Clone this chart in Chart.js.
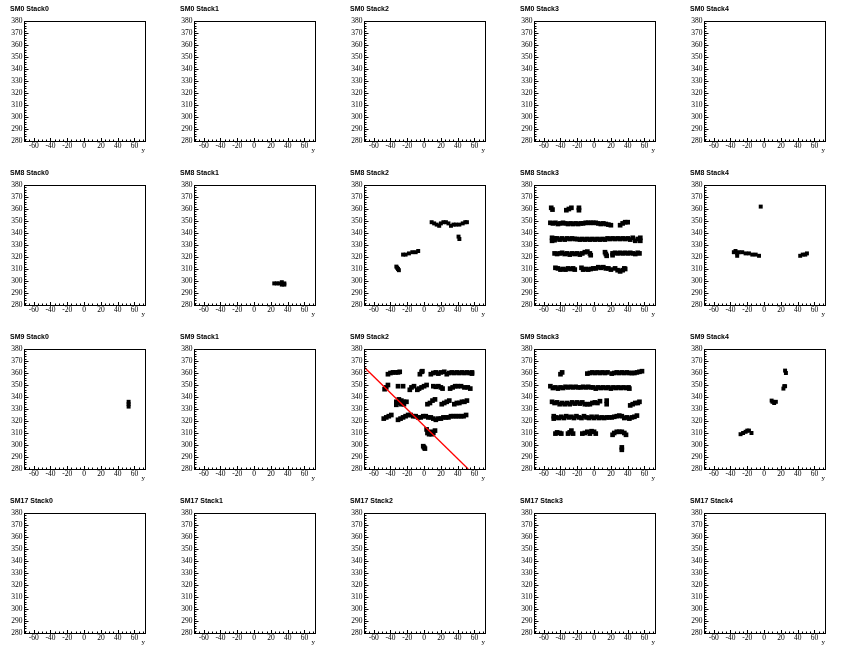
<!DOCTYPE html>
<html><head><meta charset="utf-8">
<style>html,body{margin:0;padding:0;background:#fff;width:851px;height:656px;overflow:hidden}
canvas{position:absolute}</style>
<script src="https://cdn.jsdelivr.net/npm/chart.js@4"></script></head><body>
<script>
const modules=["SM0","SM8","SM9","SM17"];
const stacks=["Stack0","Stack1","Stack2","Stack3","Stack4"];
const yTickLabels=[280,290,300,310,320,330,340,350,360,370,380];
const xTickLabels=[-60,-40,-20,0,20,40,60];
const fitLine=[[-71.5,365],[52.5,280]];
const sm8Stack1=[[24,298],[27,298],[30,298],[33,297],[33,299],[36,297],[36,298]];
const sm9Stack0=[[53,336],[53,334],[53,332]];
const sm8Stack2=[[-33,312],[-32,311],[-31,310],[-30,309],[-25,322],[-22,322],[-18,323],[-14,324],[-10,324],[-7,325],[9,349],[12,348],[15,347],[18,346],[20,348],[23,349],[26,349],[29,348],[32,346],[35,347],[38,347],[42,347],[46,348],[49,349],[51,349],[41,337],[42,335]];
const sm8Stack4=[[-36,324],[-34,325],[-32,323],[-32,321],[-30,324],[-26,324],[-22,323],[-18,323],[-14,322],[-10,322],[-6,321],[-4,362],[43,321],[46,322],[49,322],[51,323]];
const sm9Stack4=[[-28,309],[-25,310],[-22,311],[-20,312],[-18,312],[-15,310],[9,337],[10,336],[12,335],[14,336],[23,347],[24,349],[25,349],[25,362],[26,360]];
const sm8Stack3=[[-51,361],[-49.5,359.5],[-33,359],[-30,360],[-27,361],[-18,361],[-18,359],
[-52,348.5],[-49,348],[-46,348.5],[-43,347.5],[-40,348],[-37,348.5],[-34,348],[-31,347.5],[-28,348],[-25,347.5],[-22,348],[-19,347.5],[-16,348],[-13,348],[-10,348.5],[-7,348.5],[-4,348.5],[-1,348.5],[2,348.5],[5,348],[8,347.5],[11,348],[14,347.5],[17,347],[20,346.5],[31,346.5],[34,348],[37,349],[40,349],
[-50,336],[-50,333.5],[-47,335.5],[-47,334],[-44,335.5],[-41,334.5],[-38,335.5],[-35,334.5],[-32,335.5],[-29,335],[-26,335.5],[-23,335],[-20,335],[-17,334.5],[-14,335],[-11,334.5],[-8,335],[-5,334.5],[-2,335],[1,334.5],[4,335],[7,334.5],[10,335],[13,334.5],[16,335.5],[19,335],[22,335.5],[25,335],[28,335.5],[31,335],[34,335.5],[37,335],[40,335.5],[43,334.5],[46,336],[49,333.5],[52,335],[55,333.5],[55,336],
[-47,323],[-44,322.5],[-41,323],[-38,323.5],[-35,322.5],[-32,323],[-29,322],[-26,323],[-23,322.5],[-20,323],[-17,322],[-14,323],[-11,324],[-8,324.5],[-5,323],[-4,321.5],[13,324],[14,322.5],[15,321],[22,323],[22,321.5],[25,323.5],[28,323],[31,323.5],[34,323],[37,323.5],[40,323],[43,323.5],[46,323],[49,322.5],[52,323.5],[54,323],
[-46,311],[-43,310.5],[-40,309.5],[-37,310],[-34,309.5],[-31,310.5],[-28,310],[-25,310.5],[-23,309.5],[-15,311],[-13,309.5],[-10,310],[-7,309.5],[-4,310],[-1,310.5],[2,310.5],[5,311.5],[8,311],[11,311.5],[14,310.5],[17,310.5],[20,309.5],[25,310.5],[28,309],[31,308],[34,309],[36,310.5],[37,310]];
const sm9Stack2=[[-43,359],[-40,360],[-37,360.5],[-34,360.5],[-31,360.5],[-29,361],[-5,359],[-3,361],[-2,361.5],[8,359],[11,360],[14,360.5],[17,359.5],[20,360.5],[24,361],[27,359],[30,360],[33,360.5],[36,360],[39,360.5],[42,360],[45,360.5],[48,360],[51,360.5],[54,360],[57,360.5],[57,359.5],
[-47,346.5],[-45,348],[-43,350],[-31,349],[-25,349],[-17,346],[-15,348],[-12,349],[-8,346],[-6,347],[-3,348],[0,349],[3,350],[11,349],[14,348.5],[17,349],[20,348],[22,347],[31,347],[34,348],[37,349],[40,349],[44,349],[48,348],[52,348],[55,347],
[-33,336],[-33,333.5],[-30,338],[-30,335],[-27,334],[-27,337],[-24,336],[-24,334],[-21,336],[4,334],[7,335],[10,337],[13,338],[21,334],[24,335],[27,336],[30,337],[36,334],[39,335],[42,335],[45,336],[48,336],[51,337],
[-48,322],[-45,323],[-42,324],[-39,325],[-31,321],[-28,322],[-25,323],[-22,324],[-19,325],[-16,325],[-13,324],[-10,324],[-7,323],[-4,323],[-1,324],[2,324],[5,323],[8,323],[11,322],[14,321],[17,322],[20,322],[23,323],[26,323],[29,323],[32,324],[35,324],[38,324],[41,324],[44,324],[47,324],[50,325],
[3,313],[4,310],[6,309],[8,311],[9,309],[11,310],[13,312],[-1,299],[0,298],[1,297]];
const sm9Stack3=[[-40,359],[-38,360.5],[-8,359.5],[-5,360],[-2,360.5],[1,360],[4,360.5],[7,360],[10,360.5],[13,360],[16,360.5],[21,359.5],[24,360],[27,360.5],[30,360],[33,360.5],[36,360],[39,360.5],[42,360],[45,360],[48,360],[51,360.5],[54,361],[57,361.5],
[-52,349],[-49,347.5],[-46,348],[-43,347],[-40,348],[-37,347.5],[-34,348.5],[-31,348],[-28,348.5],[-25,348],[-22,348.5],[-19,348],[-16,348],[-13,348.5],[-10,348],[-7,348.5],[-4,348],[-1,348],[2,347],[5,348],[8,347.5],[11,348],[14,347.5],[17,348],[20,347],[23,348],[26,347.5],[29,348],[32,347.5],[35,348],[38,347.5],[41,348],[42,347],
[-50,336],[-47,335],[-44,335.5],[-41,334],[-38,335],[-35,334],[-32,335],[-29,334],[-26,335.5],[-23,334.5],[-20,335.5],[-17,334.5],[-14,335.5],[-11,334],[-8,334],[-5,334],[-2,335],[1,335.5],[4,335],[7,336.5],[15,337],[15,334],[43,333],[46,334],[49,335],[52,335],[54,336],
[-48,324],[-48,322],[-45,323],[-42,322.5],[-39,323.5],[-36,322.5],[-33,324],[-30,323],[-27,323.5],[-24,322.5],[-21,324],[-18,323],[-15,322.5],[-12,324],[-9,323],[-6,322.5],[-3,323.5],[0,322.5],[3,323.5],[6,322.5],[9,323],[12,322.5],[15,323],[18,323],[21,323],[24,323.5],[27,324],[30,324.5],[33,324],[36,322.5],[39,323],[42,322],[45,323],[48,323.5],[51,324.5],
[-46,309.5],[-44,310.5],[-41,310],[-39,309.5],[-31,309.5],[-29,310.5],[-27,312],[-25,309.5],[-14,309.5],[-11,310],[-8,311],[-5,309.5],[-3,311.5],[0,311],[2,309.5],[22,308.5],[24,310],[27,311],[30,311],[33,311],[36,310],[38,308.5],[33,298],[33,296]];
const panelData={"SM8 Stack1":sm8Stack1,"SM8 Stack2":sm8Stack2,"SM8 Stack3":sm8Stack3,"SM8 Stack4":sm8Stack4,"SM9 Stack0":sm9Stack0,"SM9 Stack2":sm9Stack2,"SM9 Stack3":sm9Stack3,"SM9 Stack4":sm9Stack4};
const densePanels=["SM8 Stack3","SM9 Stack2","SM9 Stack3"];
const toPts=a=>a.map(p=>({x:p[0],y:p[1]}));

const frameAndTicks={id:'frameAndTicks',afterDatasetsDraw(c){
  const {ctx,chartArea:a,scales:{x,y}}=c;
  ctx.save();ctx.strokeStyle='#000';ctx.lineWidth=1;
  const L=Math.round(a.left)+.5,R=Math.round(a.right)+.5,T=Math.round(a.top)+.5,B=Math.round(a.bottom)+.5;
  ctx.beginPath();
  for(let v=280;v<=380;v+=2){const p=Math.round(y.getPixelForValue(v))+.5,l=v%10===0?4:2;ctx.moveTo(L,p);ctx.lineTo(L+l,p);}
  for(let v=-70;v<=70;v+=5){const p=Math.round(x.getPixelForValue(v))+.5,l=v%20===0?3.5:2;ctx.moveTo(p,B);ctx.lineTo(p,B-l);}
  ctx.stroke();
  ctx.strokeRect(L,T,R-L,B-T);
  ctx.restore();
}};
Chart.defaults.animation=false;
modules.forEach((m,r)=>stacks.forEach((s,k)=>{
  const cv=document.createElement('canvas');
  cv.style.cssText=`left:${170*k}px;top:${164*r}px;width:170px;height:164px`;
  cv.width=170;cv.height=164;document.body.appendChild(cv);
  const name=m+' '+s;
  const datasets=[];
  const rad=densePanels.includes(name)?3.3:2.8;
  if(panelData[name])datasets.push({data:toPts(panelData[name]),pointStyle:'rect',pointRadius:rad,pointHoverRadius:rad,backgroundColor:'#000',borderColor:'#000',borderWidth:0,showLine:false,order:2});
  if(name==="SM9 Stack2")datasets.push({data:toPts(fitLine),showLine:true,pointRadius:0,borderColor:'#f00',borderWidth:1.3,order:1});
  new Chart(cv,{type:'scatter',data:{datasets},plugins:[frameAndTicks],options:{
    responsive:false,devicePixelRatio:1,animation:false,
    layout:{padding:{left:10,right:25,top:0,bottom:10}},
    plugins:{legend:{display:false},tooltip:{enabled:false},
      title:{display:true,text:name,align:'start',color:'#000',font:{family:'Liberation Sans',size:7,weight:'bold',lineHeight:1},padding:{top:6,bottom:8}}},
    scales:{
      x:{type:'linear',min:-71.5,max:72.5,afterFit(sc){sc.height=13;},
        grid:{display:false,drawTicks:false},border:{display:false},
        afterBuildTicks(sc){sc.ticks=xTickLabels.map(v=>({value:v}));},
        ticks:{autoSkip:false,maxRotation:0,padding:1,color:'#000',font:{family:'Liberation Serif',size:7.5}},
        title:{display:true,text:'y',align:'end',color:'#000',font:{family:'Liberation Serif',size:7},padding:0}},
      y:{type:'linear',min:280,max:380,afterFit(sc){sc.width=14;},
        grid:{display:false,drawTicks:false},border:{display:false},
        afterBuildTicks(sc){sc.ticks=yTickLabels.map(v=>({value:v}));},
        ticks:{autoSkip:false,padding:1.5,color:'#000',font:{family:'Liberation Serif',size:7.5}}}
    }}});
}));
</script></body></html>
